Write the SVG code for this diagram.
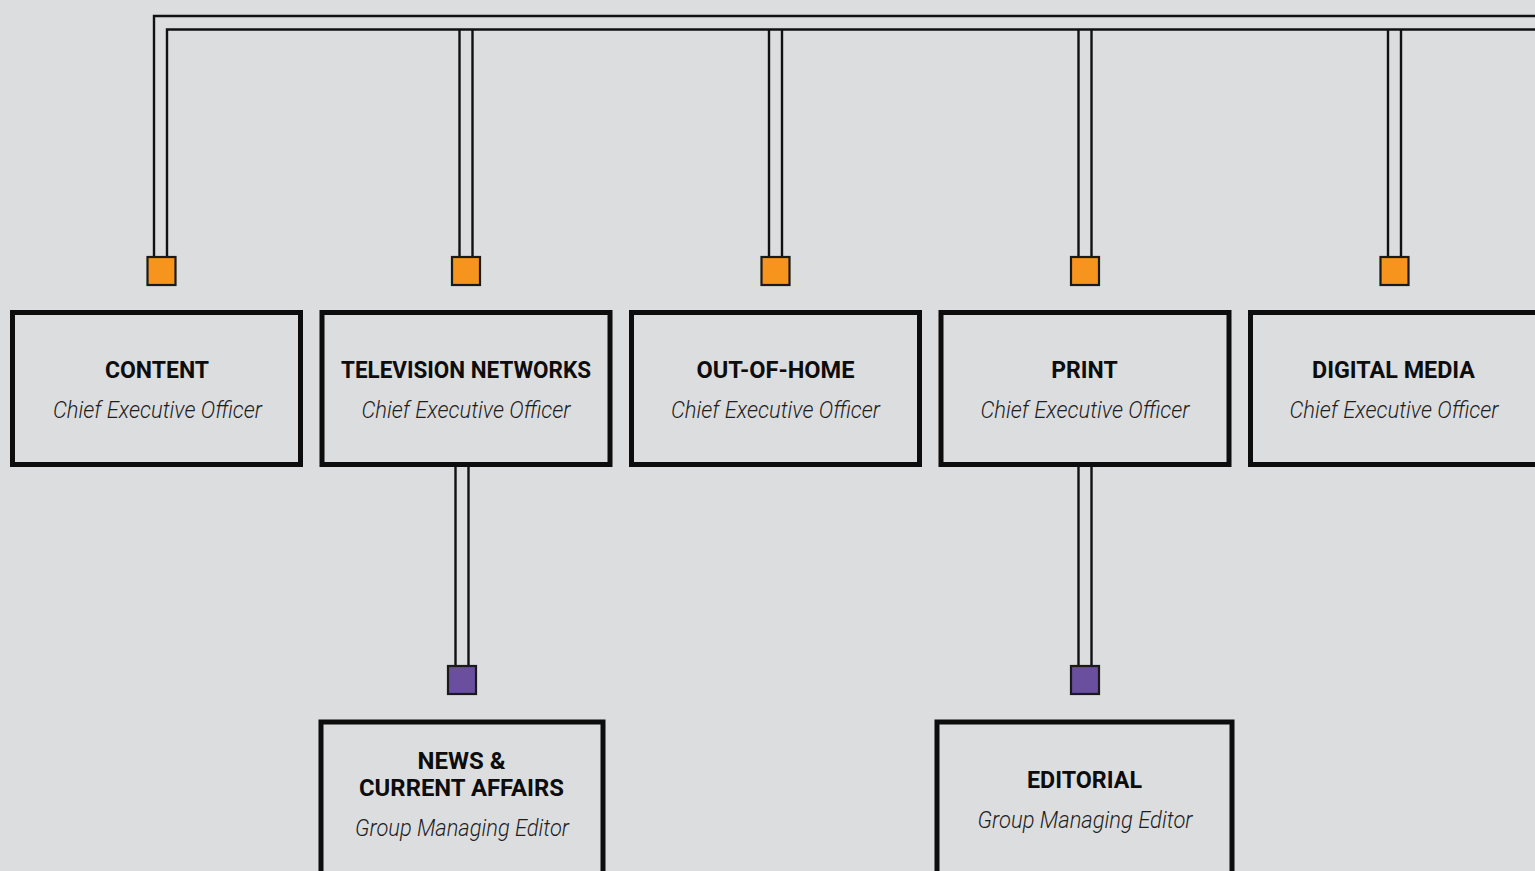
<svg xmlns="http://www.w3.org/2000/svg" width="1535" height="871" viewBox="0 0 1535 871">
  <style>
    .bg { fill: #dcdddf; }
    .box { fill: #dcdddf; stroke: #0d0d0d; stroke-width: 5; }
    .wire { fill: none; stroke: #111; stroke-width: 2.4; }
    .pin-o { fill: #f7941d; stroke: #1a1a1a; stroke-width: 2.2; }
    .pin-p { fill: #6a4f9f; stroke: #1a1a1a; stroke-width: 2.2; }
    .title { font-family: Roboto, "Liberation Sans", sans-serif; font-weight: bold; font-size: 23px; fill: #0d0d0d; text-anchor: middle; }
    .role { font-family: Roboto, "Liberation Sans", sans-serif; font-style: italic; font-weight: 300; font-size: 23px; fill: #1e1e1e; text-anchor: middle; }
  </style>

  <rect class="bg" x="0" y="0" width="1535" height="871"/>

  <!-- connectors: twin-rail bus and drops -->
  <g id="connectors">
    <path class="wire" d="M154,256 V16 H1535"/>
    <path class="wire" d="M167,256 V29.5 H1535"/>
    <path class="wire" d="M459.5,29.5 V256 M472.5,29.5 V256"/>
    <path class="wire" d="M769,29.5 V256 M782,29.5 V256"/>
    <path class="wire" d="M1078.5,29.5 V256 M1091.5,29.5 V256"/>
    <path class="wire" d="M1388,29.5 V256 M1401,29.5 V256"/>
    <path class="wire" d="M455.5,466 V665 M468.5,466 V665"/>
    <path class="wire" d="M1078.5,466 V665 M1091.5,466 V665"/>

    <rect class="pin-o" x="147.5" y="257" width="28" height="28"/>
    <rect class="pin-o" x="452" y="257" width="28" height="28"/>
    <rect class="pin-o" x="761.5" y="257" width="28" height="28"/>
    <rect class="pin-o" x="1071" y="257" width="28" height="28"/>
    <rect class="pin-o" x="1380.5" y="257" width="28" height="28"/>
    <rect class="pin-p" x="448" y="666" width="28" height="28"/>
    <rect class="pin-p" x="1071" y="666" width="28" height="28"/>
  </g>

  <g id="content">
    <rect class="box" x="12.5" y="312.5" width="288" height="152"/>
    <text class="title" x="157" y="377.5">CONTENT</text>
    <text class="role" x="157.5" y="417.5" textLength="209" lengthAdjust="spacingAndGlyphs">Chief Executive Officer</text>
  </g>

  <g id="television-networks">
    <rect class="box" x="322" y="312.5" width="288" height="152"/>
    <text class="title" x="466" y="377.5" textLength="250" lengthAdjust="spacingAndGlyphs">TELEVISION NETWORKS</text>
    <text class="role" x="466" y="417.5" textLength="209" lengthAdjust="spacingAndGlyphs">Chief Executive Officer</text>
  </g>

  <g id="out-of-home">
    <rect class="box" x="631.5" y="312.5" width="288" height="152"/>
    <text class="title" x="775.5" y="377.5" textLength="158" lengthAdjust="spacingAndGlyphs">OUT-OF-HOME</text>
    <text class="role" x="775.5" y="417.5" textLength="209" lengthAdjust="spacingAndGlyphs">Chief Executive Officer</text>
  </g>

  <g id="print">
    <rect class="box" x="941" y="312.5" width="288" height="152"/>
    <text class="title" x="1084.5" y="377.5">PRINT</text>
    <text class="role" x="1085" y="417.5" textLength="209" lengthAdjust="spacingAndGlyphs">Chief Executive Officer</text>
  </g>

  <g id="digital-media">
    <rect class="box" x="1250.5" y="312.5" width="300" height="152"/>
    <text class="title" x="1393.5" y="377.5" textLength="163" lengthAdjust="spacingAndGlyphs">DIGITAL MEDIA</text>
    <text class="role" x="1394" y="417.5" textLength="209" lengthAdjust="spacingAndGlyphs">Chief Executive Officer</text>
  </g>

  <g id="news-current-affairs">
    <rect class="box" x="321" y="722" width="282" height="170"/>
    <text class="title" x="461.5" y="768.5" textLength="88" lengthAdjust="spacingAndGlyphs">NEWS &amp;</text>
    <text class="title" x="461.5" y="795.5" textLength="205" lengthAdjust="spacingAndGlyphs">CURRENT AFFAIRS</text>
    <text class="role" x="462" y="835.5" textLength="214" lengthAdjust="spacingAndGlyphs">Group Managing Editor</text>
  </g>

  <g id="editorial">
    <rect class="box" x="937" y="722" width="295" height="170"/>
    <text class="title" x="1084.5" y="787.5" textLength="115" lengthAdjust="spacingAndGlyphs">EDITORIAL</text>
    <text class="role" x="1085" y="827.5" textLength="215" lengthAdjust="spacingAndGlyphs">Group Managing Editor</text>
  </g>
</svg>
